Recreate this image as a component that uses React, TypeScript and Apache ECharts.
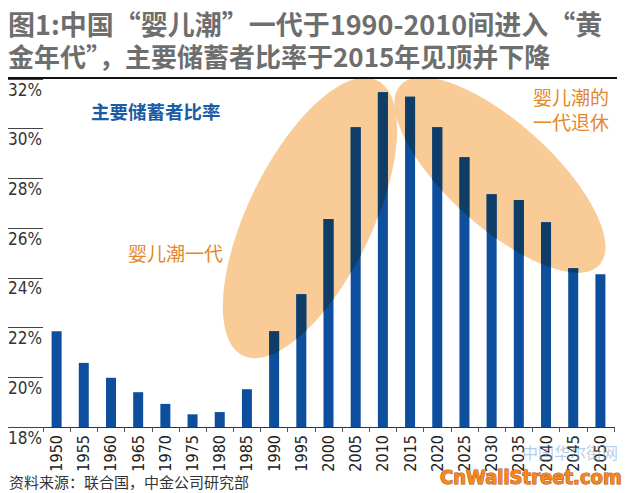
import React, { useEffect, useRef } from "react";
import * as echarts from "echarts";

const years: string[] = [
  "1950", "1955", "1960", "1965", "1970", "1975", "1980", "1985", "1990", "1995",
  "2000", "2005", "2010", "2015", "2020", "2025", "2030", "2035", "2040", "2045", "2050",
];
const saverRatio: number[] = [
  21.85, 20.58, 19.98, 19.4, 18.93, 18.51, 18.6, 19.52, 21.85, 23.34,
  26.37, 30.06, 31.47, 31.29, 30.06, 28.85, 27.36, 27.13, 26.24, 24.39, 24.15,
];
const yMin = 18;
const yMax = 32;
const yStep = 2;

const titleLines: string[] = [
  "图1:中国“婴儿潮”一代于1990-2010间进入“黄",
  "金年代”，主要储蓄者比率于2015年见顶并下降",
];
const seriesLabel = "主要储蓄者比率";
const boomLabel = "婴儿潮一代";
const retireLabel: string[] = ["婴儿潮的", "一代退休"];
const sourceText = "资料来源：联合国，中金公司研究部";
const watermarkCn = "中国华尔街网";
const watermarkEn = "CnWallStreet.com";

const NARROW = "'Liberation Sans Narrow', 'DejaVu Sans Condensed', 'Arial Narrow', sans-serif";
const CJK = "'Noto Sans CJK SC', 'Noto Sans', sans-serif";

const BLUE = "#0d4f9c";
const DARK = "#0e3e68";
const PEACH = "#f8cb97";
const BAR_W = 10;

// highlight ellipses (pixel geometry, decoration only)
const ellipses = [
  { cx: 310, cy: 218, a: 153, b: 62, deg: 64 },
  { cx: 500, cy: 175, a: 134, b: 52, deg: -42 },
];

function chord(x: number, e: { cx: number; cy: number; a: number; b: number; deg: number }) {
  const t = (e.deg * Math.PI) / 180;
  const c = Math.cos(t);
  const s = Math.sin(t);
  const dx = x - e.cx;
  const A = (s * s) / (e.a * e.a) + (c * c) / (e.b * e.b);
  const B = 2 * dx * (-(c * s) / (e.a * e.a) + (s * c) / (e.b * e.b));
  const C = dx * dx * ((c * c) / (e.a * e.a) + (s * s) / (e.b * e.b)) - 1;
  const D = B * B - 4 * A * C;
  if (D < 0) return null;
  const r = Math.sqrt(D);
  return [e.cy + (-B - r) / (2 * A), e.cy + (-B + r) / (2 * A)];
}

export default function App() {
  const ref = useRef<HTMLDivElement>(null);
  useEffect(() => {
    if (!ref.current) return;
    const chart = echarts.init(ref.current, undefined, { renderer: "svg" });
    const renderItem = (params: any, api: any) => {
      const idx = api.value(0);
      const val = api.value(1);
      const top = api.coord([idx, val]);
      const base = api.coord([idx, yMin]);
      const x0 = top[0] - BAR_W / 2;
      const x1 = top[0] + BAR_W / 2;
      const children: any[] = [
        {
          type: "rect",
          shape: { x: x0, y: top[1], width: x1 - x0, height: base[1] - top[1] },
          style: { fill: BLUE },
        },
      ];
      ellipses.forEach((e) => {
        const topPts: number[][] = [];
        const botPts: number[][] = [];
        const n = 10;
        for (let k = 0; k <= n; k++) {
          const x = x0 + (BAR_W * k) / n;
          const ch = chord(x, e);
          if (!ch) continue;
          const y1 = Math.max(top[1], ch[0]);
          const y2 = Math.min(base[1], ch[1]);
          if (y2 <= y1) continue;
          topPts.push([x, y1]);
          botPts.push([x, y2]);
        }
        if (topPts.length >= 2) {
          children.push({
            type: "polygon",
            shape: { points: topPts.concat(botPts.reverse()) },
            style: { fill: DARK },
          });
        }
      });
      return { type: "group", children };
    };
    chart.setOption({
      animation: false,
      backgroundColor: "#ffffff",
      grid: { left: 43, right: 15, top: 79, bottom: 66, containLabel: false },
      xAxis: {
        type: "category",
        data: years,
        boundaryGap: true,
        axisLine: { show: true, lineStyle: { color: "#333", width: 1 } },
        axisTick: { show: true, length: 5, lineStyle: { color: "#555" } },
        axisLabel: {
          interval: 0,
          rotate: 90,
          margin: 8,
          fontSize: 16,
          color: "#222",
          fontFamily: NARROW,
        },
      },
      yAxis: {
        type: "value",
        min: yMin,
        max: yMax,
        interval: yStep,
        axisLine: { show: false },
        splitLine: { show: false },
        axisTick: { show: true, length: 35, inside: false, lineStyle: { color: "#444", width: 1 } },
        axisLabel: {
          margin: 35,
          align: "left",
          verticalAlign: "top",
          padding: [2, 0, 0, 0],
          fontSize: 17,
          color: "#333",
          fontFamily: NARROW,
          formatter: (v: number) => `${v}%`,
        },
      },
      series: [
        {
          type: "custom",
          data: saverRatio.map((v, i) => [i, v]),
          encode: { x: 0, y: 1 },
          renderItem,
          z: 5,
        },
      ],
      graphic: [
        ...ellipses.map((e) => ({
          type: "ellipse",
          x: e.cx,
          y: e.cy,
          rotation: (e.deg * Math.PI) / 180,
          shape: { cx: 0, cy: 0, rx: e.a, ry: e.b },
          style: { fill: PEACH },
          z: 1,
          silent: true,
        })),
        {
          type: "text",
          x: 8,
          y: 23.5,
          style: { text: titleLines[0], font: `bold 27px ${CJK}`, fill: "#6e6e6e", verticalAlign: "middle" },
          z: 60,
        },
        {
          type: "text",
          x: 8,
          y: 55,
          style: { text: titleLines[1], font: `bold 26px ${CJK}`, fill: "#6e6e6e", verticalAlign: "middle" },
          z: 60,
        },
        {
          type: "line",
          shape: { x1: 8, y1: 78, x2: 617, y2: 78 },
          style: { stroke: "#111", lineWidth: 2 },
          z: 60,
        },
        {
          type: "text",
          x: 91,
          y: 111,
          style: {
            text: seriesLabel,
            font: `bold 18.5px ${CJK}`,
            fill: "#1b5ca6",
            verticalAlign: "middle",
          },
          z: 60,
        },
        {
          type: "text",
          x: 128,
          y: 252,
          style: { text: boomLabel, font: `19px ${CJK}`, fill: "#e5862a", verticalAlign: "middle" },
          z: 60,
        },
        {
          type: "text",
          x: 533,
          y: 96.5,
          style: { text: retireLabel[0], font: `19px ${CJK}`, fill: "#e5862a", verticalAlign: "middle" },
          z: 60,
        },
        {
          type: "text",
          x: 533,
          y: 121,
          style: { text: retireLabel[1], font: `19px ${CJK}`, fill: "#e5862a", verticalAlign: "middle" },
          z: 60,
        },
        {
          type: "text",
          x: 9,
          y: 481,
          style: { text: sourceText, font: `15px ${CJK}`, fill: "#333", verticalAlign: "middle" },
          z: 60,
        },
        {
          type: "text",
          x: 522,
          y: 452,
          style: {
            text: watermarkCn,
            font: `16px ${CJK}`,
            fill: "rgba(120,160,210,0.55)",
            verticalAlign: "middle",
          },
          z: 60,
        },
        {
          type: "text",
          x: 440,
          y: 477,
          style: {
            text: watermarkEn,
            font: `bold 20px 'DejaVu Sans Condensed', sans-serif`,
            fill: "#f5871e",
            stroke: "#a9500c",
            lineWidth: 1,
            verticalAlign: "middle",
          },
          z: 60,
        },
      ],
    });
    return () => chart.dispose();
  }, []);
  return <div ref={ref} style={{ width: 629, height: 493, position: "absolute", left: 0, top: 0 }} />;
}
